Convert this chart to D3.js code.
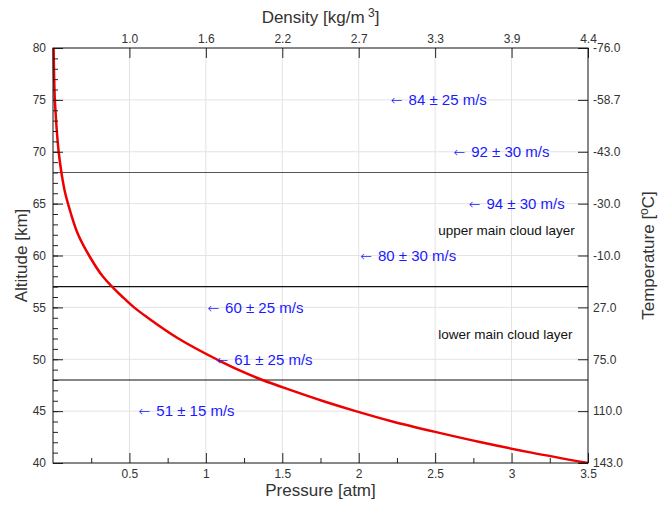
<!DOCTYPE html>
<html>
<head>
<meta charset="utf-8">
<script src="https://cdn.jsdelivr.net/npm/d3@7"></script>
<style>
  body { margin: 0; background: #fff; }
  text { font-family: "Liberation Sans", Arial, sans-serif; }
</style>
</head>
<body>
<script>
// Venus atmosphere profile
const altitude = [40, 41, 42, 43, 44, 45, 46, 47, 48, 49, 50, 52, 54, 55, 56, 58, 60, 62, 64, 65, 66, 68, 70, 72, 74, 75, 76, 78, 80];
const pressure = [3.50, 3.13, 2.80, 2.50, 2.22, 1.98, 1.76, 1.56, 1.37, 1.21, 1.07, 0.82, 0.62, 0.53, 0.455, 0.325, 0.236, 0.165, 0.118, 0.098, 0.080, 0.055, 0.037, 0.025, 0.016, 0.012, 0.0095, 0.0062, 0.004];

// top axis (density) labels at the pressure ticks
const pressureTicks = [0.5, 1, 1.5, 2, 2.5, 3, 3.5];
const densityLabels = ["1.0", "1.6", "2.2", "2.7", "3.3", "3.9", "4.4"];

// right axis (temperature) labels at the altitude ticks
const altitudeTicks = [80, 75, 70, 65, 60, 55, 50, 45, 40];
const temperatureLabels = ["-76.0", "-58.7", "-43.0", "-30.0", "-10.0", "27.0", "75.0", "110.0", "143.0"];

// wind speed notes
const windLabels = ["84 ± 25 m/s", "92 ± 30 m/s", "94 ± 30 m/s", "80 ± 30 m/s", "60 ± 25 m/s", "61 ± 25 m/s", "51 ± 15 m/s"];
const windAltitude = [75, 70, 65, 60, 55, 50, 45];
const windPressure = [2.21, 2.62, 2.72, 2.01, 1.01, 1.07, 0.56];

// cloud layer boundaries and names
const layerBounds = [68, 57, 48];
const layerNames = ["upper main cloud layer", "lower main cloud layer"];
const layerAltitude = [62.4, 52.4];
const layerPressure = [2.52, 2.52];

const width = 668, height = 510;
const margin = {top: 48, right: 80, bottom: 47, left: 53};
const iw = width - margin.left - margin.right;
const ih = height - margin.top - margin.bottom;

const svg = d3.select("body").append("svg")
  .attr("width", width)
  .attr("height", height);

const g = svg.append("g").attr("transform", `translate(${margin.left},${margin.top})`);

const x = d3.scaleLinear().domain([0, 3.5]).range([0, iw]);
const y = d3.scaleLinear().domain([40, 80]).range([ih, 0]);

// grid
g.append("g").selectAll("line")
  .data(pressureTicks.slice(0, -1))
  .join("line")
  .attr("x1", d => x(d)).attr("x2", d => x(d))
  .attr("y1", 0).attr("y2", ih)
  .attr("stroke", "#e3e3e3");
g.append("g").selectAll("line")
  .data(altitudeTicks.slice(1, -1))
  .join("line")
  .attr("y1", d => y(d)).attr("y2", d => y(d))
  .attr("x1", 0).attr("x2", iw)
  .attr("stroke", "#e3e3e3");

// cloud layer boundaries
g.append("g").selectAll("line")
  .data(layerBounds)
  .join("line")
  .attr("y1", d => y(d)).attr("y2", d => y(d))
  .attr("x1", 0).attr("x2", iw)
  .attr("stroke", (d, i) => i === 0 ? "#555" : "#111")
  .attr("stroke-width", 1.1);

// pressure curve
const line = d3.line()
  .x((d, i) => x(pressure[i]))
  .y(d => y(d))
  .curve(d3.curveMonotoneY);

g.append("path")
  .datum(altitude)
  .attr("d", line)
  .attr("fill", "none")
  .attr("stroke", "#ee0000")
  .attr("stroke-width", 2.5);

// wind notes
const notes = g.append("g").selectAll("text")
  .data(windLabels)
  .join("text")
  .attr("x", (d, i) => x(windPressure[i]))
  .attr("y", (d, i) => y(windAltitude[i]))
  .attr("dy", "0.35em")
  .attr("font-size", 15)
  .attr("fill", "#1a1aff");
notes.append("tspan").attr("font-size", 14).attr("font-family", "'DejaVu Sans'").attr("font-weight", 200).text("\u2190");
notes.append("tspan").attr("dx", 6).text(d => d);

// layer names
g.append("g").selectAll("text")
  .data(layerNames)
  .join("text")
  .attr("x", (d, i) => x(layerPressure[i]))
  .attr("y", (d, i) => y(layerAltitude[i]))
  .attr("dy", "0.35em")
  .attr("font-size", 13.5)
  .attr("fill", "#111")
  .text(d => d);

// axes
function styleAxis(sel) {
  sel.select(".domain").remove();
  sel.selectAll(".tick line").attr("stroke", "#222");
  sel.selectAll(".tick text").attr("fill", "#333").attr("font-size", 12)
    .style("font-family", "'Liberation Sans', Arial, sans-serif");
}

g.append("g")
  .call(d3.axisLeft(y).tickValues(d3.range(41, 80, 1)).tickSize(-5).tickFormat(""))
  .call(styleAxis);
g.append("g")
  .call(d3.axisLeft(y).tickValues(altitudeTicks).tickSize(-10).tickPadding(7).tickFormat(d3.format("d")))
  .call(styleAxis);

g.append("g")
  .attr("transform", `translate(0,${ih})`)
  .call(d3.axisBottom(x).tickValues(d3.range(0.25, 3.5, 0.5)).tickSize(-5).tickFormat(""))
  .call(styleAxis);
g.append("g")
  .attr("transform", `translate(0,${ih})`)
  .call(d3.axisBottom(x).tickValues(pressureTicks).tickSize(-10).tickPadding(6).tickFormat(d => d3.format("")(d)))
  .call(styleAxis);

g.append("g")
  .call(d3.axisTop(x).tickValues(pressureTicks).tickSize(-10).tickPadding(5).tickFormat((d, i) => densityLabels[i]))
  .call(styleAxis);

g.append("g")
  .attr("transform", `translate(${iw},0)`)
  .call(d3.axisRight(y).tickValues(altitudeTicks).tickSize(-10).tickPadding(5).tickFormat((d, i) => temperatureLabels[i]))
  .call(styleAxis);

// frame
g.append("rect")
  .attr("width", iw).attr("height", ih)
  .attr("fill", "none")
  .attr("stroke", "#111");

// axis titles
svg.append("text")
  .attr("x", margin.left + iw / 2).attr("y", 496)
  .attr("text-anchor", "middle").attr("font-size", 17).attr("fill", "#333")
  .text("Pressure [atm]");

const dt = svg.append("text")
  .attr("x", margin.left + iw / 2).attr("y", 23)
  .attr("text-anchor", "middle").attr("font-size", 17).attr("fill", "#333");
dt.append("tspan").text("Density [kg/m");
dt.append("tspan").attr("font-size", 12).attr("dy", -6).text(" 3");
dt.append("tspan").attr("dy", 6).text("]");

svg.append("text")
  .attr("transform", `translate(27,${margin.top + ih / 2}) rotate(-90)`)
  .attr("text-anchor", "middle").attr("font-size", 17).attr("fill", "#333")
  .text("Altitude [km]");

const tt = svg.append("text")
  .attr("transform", `translate(654,${margin.top + ih / 2}) rotate(-90)`)
  .attr("text-anchor", "middle").attr("font-size", 17).attr("fill", "#333");
tt.append("tspan").text("Temperature [");
tt.append("tspan").attr("font-size", 12).attr("dy", -6).text("o");
tt.append("tspan").attr("dy", 6).text("C]");
</script>
</body>
</html>
